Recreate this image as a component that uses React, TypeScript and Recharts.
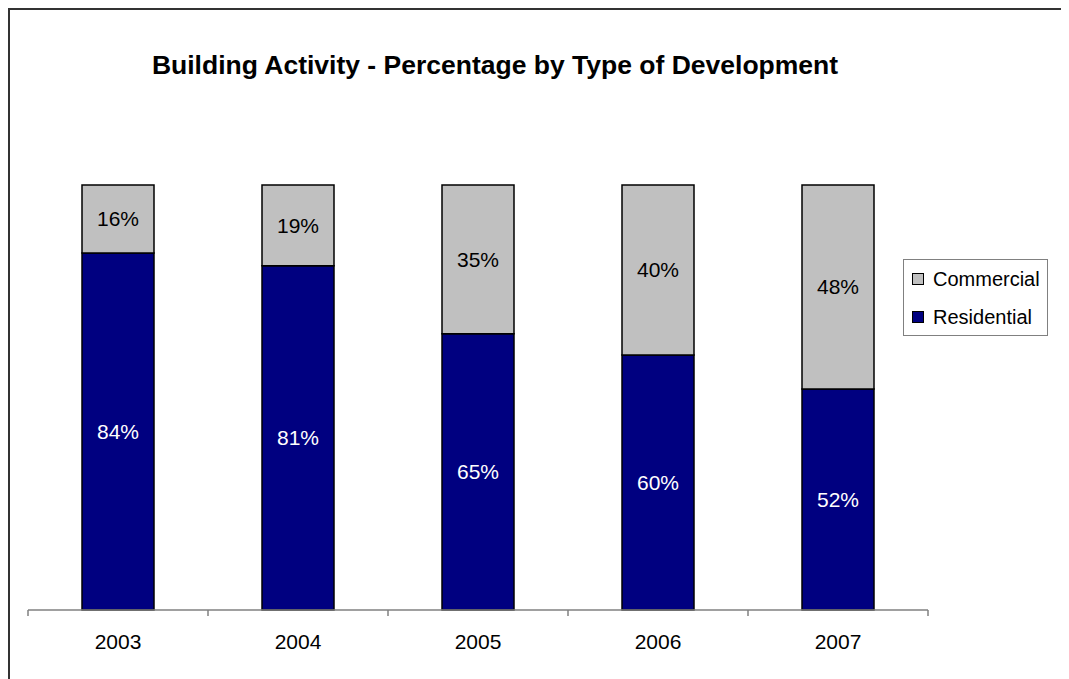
import { Bar, BarChart, LabelList, XAxis, YAxis } from "recharts";

const FONT = '"Liberation Sans", Arial, sans-serif';
const NAVY = "#000080";
const GREY = "#c0c0c0";

const years = ["2003", "2004", "2005", "2006", "2007"];
const residential = [84, 81, 65, 60, 52];
const commercial = [16, 19, 35, 40, 48];

const data = years.map((year, i) => ({
  year,
  residential: residential[i],
  commercial: commercial[i],
}));

const legendItems = [
  { name: "Commercial", color: GREY },
  { name: "Residential", color: NAVY },
];

const W = 1055;
const H = 669;
const MARGIN = { top: 175, right: 137, bottom: 4, left: 18 };
const HALF_BAND = (W - MARGIN.left - MARGIN.right) / years.length / 2;

function YearTick(props: any) {
  const { x, y, payload, index } = props;
  const last = index === years.length - 1;
  return (
    <g>
      <line x1={x - HALF_BAND} y1={y - 8} x2={x - HALF_BAND} y2={y - 2} stroke="#808080" strokeWidth={1.5} />
      {last && (
        <line x1={x + HALF_BAND} y1={y - 8} x2={x + HALF_BAND} y2={y - 2} stroke="#808080" strokeWidth={1.5} />
      )}
      <text x={x} y={y + 24} dy="0.35em" textAnchor="middle" fontSize={21} fill="#000" fontFamily={FONT}>
        {payload.value}
      </text>
    </g>
  );
}

function LegendBox() {
  return (
    <div
      style={{
        position: "absolute",
        left: 893,
        top: 249,
        border: "1.5px solid #808080",
        width: 145,
        height: 77,
        boxSizing: "border-box",
        padding: "4px 0 0 8px",
        fontFamily: FONT,
        fontSize: 20,
        background: "#fff",
      }}
    >
      {legendItems.map((it) => (
        <div key={it.name} style={{ display: "flex", alignItems: "center", height: 30, marginBottom: 8 }}>
          <span
            style={{
              display: "inline-block",
              width: 10,
              height: 10,
              background: it.color,
              border: "1.5px solid #000",
              marginRight: 9,
            }}
          />
          <span>{it.name}</span>
        </div>
      ))}
    </div>
  );
}

export default function App() {
  return (
    <div
      style={{
        position: "relative",
        width: W,
        height: H,
        borderTop: "2px solid #333",
        borderLeft: "2px solid #333",
        borderRight: "2px solid #333",
        background: "#fff",
        overflow: "hidden",
      }}
    >
      <div
        style={{
          position: "absolute",
          left: 0,
          top: 40,
          width: 970,
          textAlign: "center",
          fontFamily: FONT,
          fontWeight: "bold",
          fontSize: 26.5,
          color: "#000",
        }}
      >
        Building Activity - Percentage by Type of Development
      </div>
      <BarChart width={W} height={H} data={data} margin={MARGIN} barCategoryGap="30%">
        <XAxis
          dataKey="year"
          tickLine={false}
          axisLine={{ stroke: "#808080", strokeWidth: 1.5 }}
          tick={<YearTick />}
          interval={0}
          height={65}
        />
        <YAxis hide domain={[0, 100]} />
        <Bar dataKey="residential" name="Residential" stackId="a" fill={NAVY} stroke="#000" strokeWidth={1.5} isAnimationActive={false}>
          <LabelList
            dataKey="residential"
            position="center"
            formatter={(v: any) => `${v}%`}
            fill="#fff"
            fontSize={21}
            fontFamily={FONT}
          />
        </Bar>
        <Bar dataKey="commercial" name="Commercial" stackId="a" fill={GREY} stroke="#000" strokeWidth={1.5} isAnimationActive={false}>
          <LabelList
            dataKey="commercial"
            position="center"
            formatter={(v: any) => `${v}%`}
            fill="#000"
            fontSize={21}
            fontFamily={FONT}
          />
        </Bar>
      </BarChart>
      <LegendBox />
    </div>
  );
}
